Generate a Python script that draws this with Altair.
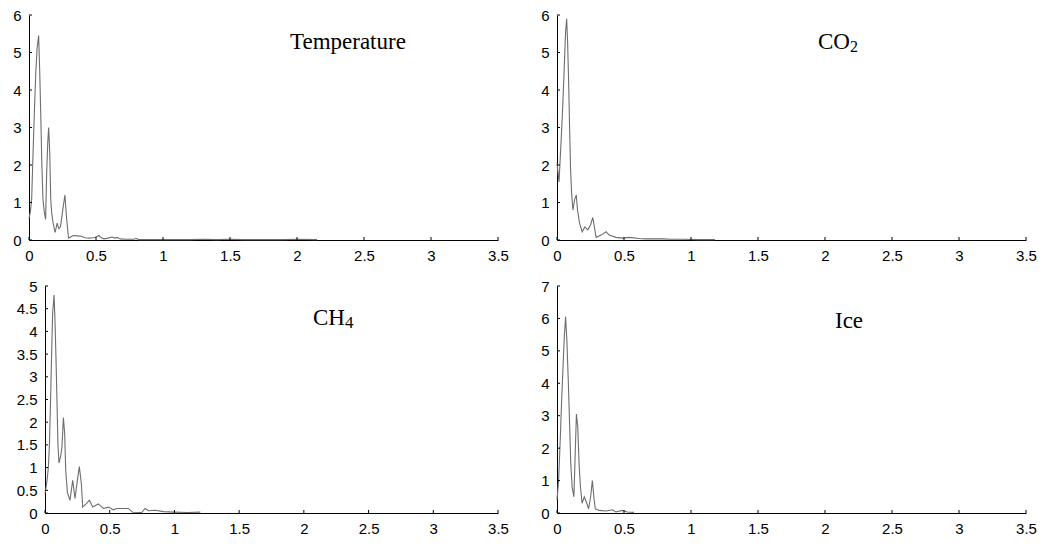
import altair as alt
import pandas as pd

# ---------------- data ----------------
x_ticks = [0, 0.5, 1, 1.5, 2, 2.5, 3, 3.5]

temp_x = [0.000, 0.010, 0.020, 0.030, 0.040, 0.050, 0.060, 0.072, 0.080, 0.088,
          0.096, 0.104, 0.114, 0.124, 0.132, 0.140, 0.147, 0.155, 0.162, 0.170,
          0.180, 0.195, 0.210, 0.222, 0.235, 0.250, 0.268, 0.280, 0.295, 0.310,
          0.330, 0.360, 0.390, 0.420, 0.450, 0.480, 0.500, 0.520, 0.540, 0.560,
          0.590, 0.620, 0.640, 0.660, 0.680, 0.720, 0.780, 0.800, 0.820, 0.900,
          1.000, 1.100, 1.200, 1.300, 1.400, 1.500, 1.600, 1.700, 1.800, 1.900,
          2.000, 2.150]
temp_y = [0.58, 0.75, 1.1, 2.3, 3.4, 4.4, 5.1, 5.45, 4.5, 3.3,
          2.0, 1.1, 0.75, 0.55, 1.8, 2.6, 3.0, 2.3, 1.1, 0.7,
          0.45, 0.2, 0.45, 0.3, 0.35, 0.75, 1.2, 0.6, 0.05, 0.08,
          0.12, 0.11, 0.1, 0.06, 0.05, 0.06, 0.08, 0.12, 0.06, 0.03,
          0.05, 0.08, 0.05, 0.07, 0.03, 0.02, 0.02, 0.04, 0.01, 0.01,
          0.01, 0.01, 0.01, 0.02, 0.01, 0.02, 0.01, 0.01, 0.01, 0.01,
          0.02, 0.01]
temp_yticks = [0, 1, 2, 3, 4, 5, 6]

co2_x = [0.000, 0.015, 0.030, 0.042, 0.054, 0.064, 0.072, 0.079, 0.087, 0.094,
         0.101, 0.109, 0.119, 0.131, 0.144, 0.153, 0.168, 0.188, 0.208, 0.230,
         0.250, 0.267, 0.292, 0.330, 0.366, 0.390, 0.440, 0.490, 0.540, 0.610,
         0.660, 0.790, 0.850, 0.950, 1.050, 1.180]
co2_y = [2.05, 1.55, 2.6, 3.5, 4.6, 5.55, 5.9, 5.3, 4.2, 3.0,
         1.9, 1.25, 0.8, 1.07, 1.2, 0.8, 0.45, 0.22, 0.35, 0.27,
         0.4, 0.6, 0.07, 0.13, 0.22, 0.13, 0.07, 0.05, 0.07, 0.04,
         0.03, 0.03, 0.02, 0.02, 0.01, 0.01]
co2_yticks = [0, 1, 2, 3, 4, 5, 6]

ch4_x = [0.000, 0.013, 0.026, 0.034, 0.044, 0.052, 0.059, 0.070, 0.077, 0.085,
         0.093, 0.100, 0.108, 0.121, 0.131, 0.142, 0.152, 0.160, 0.173, 0.193,
         0.214, 0.232, 0.250, 0.265, 0.281, 0.291, 0.317, 0.343, 0.369, 0.412,
         0.451, 0.490, 0.528, 0.554, 0.644, 0.678, 0.747, 0.773, 0.799, 0.850,
         0.915, 0.992, 1.100, 1.200]
ch4_y = [0.43, 0.65, 1.0, 1.5, 2.6, 3.6, 4.4, 4.8, 4.25, 3.4,
         2.4, 1.5, 1.1, 1.25, 1.45, 2.1, 1.75, 0.95, 0.45, 0.28,
         0.72, 0.32, 0.72, 1.02, 0.65, 0.13, 0.2, 0.28, 0.13, 0.2,
         0.1, 0.13, 0.07, 0.1, 0.1, 0.015, 0.01, 0.1, 0.05, 0.06,
         0.03, 0.02, 0.01, 0.02]
ch4_yticks = [0, 0.5, 1, 1.5, 2, 2.5, 3, 3.5, 4, 4.5, 5]

ice_x = [0.000, 0.012, 0.025, 0.034, 0.044, 0.054, 0.064, 0.074, 0.084, 0.094,
         0.103, 0.113, 0.126, 0.135, 0.145, 0.155, 0.165, 0.175, 0.187, 0.204,
         0.222, 0.236, 0.251, 0.264, 0.276, 0.286, 0.315, 0.365, 0.414, 0.438,
         0.488, 0.525, 0.574]
ice_y = [0.4, 1.0, 2.35, 3.4, 4.4, 5.4, 6.05, 5.3, 4.1, 2.75,
         1.5, 0.8, 0.5, 1.7, 3.05, 2.65, 1.5, 0.8, 0.3, 0.5,
         0.3, 0.13, 0.5, 1.0, 0.45, 0.13, 0.08, 0.06, 0.1, 0.03,
         0.08, 0.03, 0.02]
ice_yticks = [0, 1, 2, 3, 4, 5, 6, 7]

# ---------------- styling ----------------
LINE_COLOR = "#6e6e6e"
LABEL_FONT = "Liberation Sans"
LABEL_SIZE = 15
TITLE_FONT = "Liberation Serif"
X_EXT = 25


def panel(xs, ys, yticks, ymax, w, h, yext, titles, inset=0):
    df = pd.DataFrame({"f": xs, "p": ys})
    if inset:
        xsc = alt.Scale(domain=[0, 3.5], nice=False, zero=False, range=[inset, w])
    else:
        xsc = alt.Scale(domain=[0, 3.5], nice=False, zero=False)
    ysc = alt.Scale(domain=[0, ymax], nice=False, zero=False)
    xaxis = alt.Axis(values=x_ticks, format=".1~f", title=None, ticks=False,
                     tickSize=0, labelPadding=8, grid=False,
                     minExtent=X_EXT, maxExtent=X_EXT,
                     labelFlush=False, labelOverlap=False)
    yargs = dict(values=yticks, format=".1~f", title=None, ticks=False,
                 tickSize=0, labelPadding=8, grid=False,
                 minExtent=yext, maxExtent=yext,
                 labelFlush=False, labelOverlap=False)
    if inset:
        yargs["offset"] = -inset
    yaxis = alt.Axis(**yargs)
    line = alt.Chart(df).mark_line(color=LINE_COLOR, strokeWidth=1.1).encode(
        x=alt.X("f:Q", scale=xsc, axis=xaxis),
        y=alt.Y("p:Q", scale=ysc, axis=yaxis),
    )
    xt = alt.Chart(pd.DataFrame({"t": x_ticks})).mark_rule(color="black", strokeWidth=1).encode(
        x=alt.X("t:Q", scale=xsc, axis=xaxis),
        y=alt.value(h),
        y2=alt.value(h - 3),
    )
    yt = alt.Chart(pd.DataFrame({"t": yticks})).mark_rule(color="black", strokeWidth=1).encode(
        y=alt.Y("t:Q", scale=ysc, axis=yaxis),
        x=alt.value(inset),
        x2=alt.value(inset + 3),
    )
    layers = [line, xt, yt]
    for s, fs, px, py in titles:
        layers.append(
            alt.Chart(pd.DataFrame({"s": [s]})).mark_text(
                align="left", baseline="alphabetic", font=TITLE_FONT,
                fontSize=fs, color="black"
            ).encode(text="s:N", x=alt.value(px + inset), y=alt.value(py))
        )
    return alt.layer(*layers).properties(width=w, height=h)


tl = panel(temp_x, temp_y, temp_yticks, 6, 469, 225, 24,
           [("Temperature", 23, 261, 34)])
tr = panel(co2_x, co2_y, co2_yticks, 6, 469, 225, 20,
           [("CO", 23, 261, 34), ("2", 16, 293, 37)])
bl = panel(ch4_x, ch4_y, ch4_yticks, 5, 469, 227, 24,
           [("CH", 23, 268, 39), ("4", 17, 300, 42)], inset=16)
br = panel(ice_x, ice_y, ice_yticks, 7, 469, 227, 20,
           [("Ice", 23, 278, 42)])

chart = alt.concat(
    tl, tr, bl, br, columns=2, align="none",
    spacing={"row": 14, "column": 28},
).properties(
    padding={"left": 5, "top": 8, "right": 5, "bottom": 5},
    background="white",
).configure_view(stroke=None).configure_axis(
    domainColor="black",
    domainWidth=1,
    labelColor="black",
    labelFont=LABEL_FONT,
    labelFontSize=LABEL_SIZE,
)

chart.save("out.html", embed_options={"renderer": "svg", "actions": False})
